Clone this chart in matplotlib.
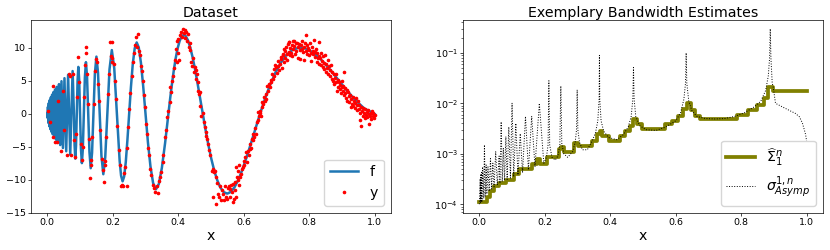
import matplotlib
matplotlib.use("Agg")
import matplotlib.pyplot as plt
import numpy as np

# --------------------------------------------------------------------------- #
# left panel: true function f (x ascending)
# --------------------------------------------------------------------------- #
f_x = [0.0, 0.0006, 0.0012, 0.0019, 0.0025, 0.0032, 0.0038, 0.0045, 0.0053, 0.0060,
       0.0068, 0.0075, 0.0083, 0.0092, 0.0100, 0.0109, 0.0118, 0.0127, 0.0136, 0.0146,
       0.0156, 0.0167, 0.0177, 0.0189, 0.0200, 0.0212, 0.0224, 0.0237, 0.0250, 0.0264,
       0.0278, 0.0292, 0.0308, 0.0324, 0.0340, 0.0357, 0.0375, 0.0394, 0.0413, 0.0433,
       0.0455, 0.0477, 0.0500, 0.0524, 0.0550, 0.0577, 0.0605, 0.0635, 0.0667, 0.0700,
       0.0735, 0.0773, 0.0813, 0.0833, 0.0855, 0.0877, 0.0900, 0.0924, 0.0948, 0.0974,
       0.1000, 0.1027, 0.1056, 0.1085, 0.1115, 0.1147, 0.1180, 0.1214, 0.1250, 0.1287,
       0.1326, 0.1367, 0.1409, 0.1453, 0.1500, 0.1549, 0.1600, 0.1654, 0.1711, 0.1770,
       0.1833, 0.1900, 0.1971, 0.2045, 0.2125, 0.2167, 0.2210, 0.2254, 0.2300, 0.2347,
       0.2397, 0.2447, 0.2500, 0.2555, 0.2611, 0.2670, 0.2731, 0.2794, 0.2860, 0.2929,
       0.3000, 0.3074, 0.3152, 0.3233, 0.3318, 0.3407, 0.3500, 0.3598, 0.3700, 0.3753,
       0.3808, 0.3864, 0.3921, 0.3980, 0.4041, 0.4103, 0.4167, 0.4232, 0.4300, 0.4370,
       0.4441, 0.4515, 0.4591, 0.4669, 0.4750, 0.4833, 0.4919, 0.5008, 0.5100, 0.5195,
       0.5293, 0.5395, 0.5500, 0.5609, 0.5722, 0.5840, 0.5962, 0.6088, 0.6220, 0.6357,
       0.6500, 0.6649, 0.6804, 0.6967, 0.7136, 0.7314, 0.7500, 0.7695, 0.7900, 0.8115,
       0.8342, 0.8581, 0.8833, 0.9100, 0.9382, 0.9682, 1.0000]
f_y = [0.0, -0.60, 0.0, 1.06, 0.0, -1.37, 0.0, 1.63, 0.0, -1.88,
       0.0, 2.10, 0.0, -2.32, 0.0, 2.52, 0.0, -2.72, 0.0, 2.91,
       0.0, -3.11, 0.0, 3.31, 0.0, -3.50, 0.0, 3.70, 0.0, -3.90,
       0.0, 4.09, 0.0, -4.30, 0.0, 4.51, 0.0, -4.73, 0.0, 4.95,
       0.0, -5.18, 0.0, 5.41, 0.0, -5.67, 0.0, 5.93, 0.0, -6.20,
       0.0, 6.49, 0.0, -4.75, -6.79, -4.86, 0.0, 4.98, 7.12, 5.10,
       0.0, -5.22, -7.47, -5.34, 0.0, 5.48, 7.84, 5.61, 0.0, -5.75,
       -8.24, -5.90, 0.0, 6.06, 8.68, 6.22, 0.0, -6.38, -9.15, -6.56,
       0.0, 6.74, 9.67, 6.93, 0.0, -3.83, -7.13, -9.38, -10.23, -9.51,
       -7.34, -4.00, 0.0, 4.06, 7.55, 9.93, 10.83, 10.07, 7.76, 4.23,
       0.0, -4.29, -7.98, -10.50, -11.44, -10.64, -8.20, -4.46, 0.0, 2.30,
       4.52, 6.57, 8.39, 9.89, 11.02, 11.72, 11.98, 11.78, 11.12, 10.02,
       8.54, 6.72, 4.63, 2.37, 0.0, -2.37, -4.65, -6.75, -8.59, -10.09,
       -11.21, -11.88, -12.09, -11.83, -11.11, -9.96, -8.43, -6.59, -4.51, -2.28,
       0.0, 2.24, 4.34, 6.21, 7.77, 8.96, 9.72, 10.04, 9.90, 9.32,
       8.35, 7.05, 5.52, 3.86, 2.24, 0.83, 0.0]

# noisy observations y, grouped by x range
obs_a = [(0.003, 0.5), (0.009, -1.2), (0.016, -3.5), (0.018, 4.2), (0.023, -4.3), (0.029, -4.3),
         (0.033, 2.0), (0.041, -5.7), (0.047, 3.5), (0.052, -2.5), (0.059, -6.2), (0.067, 6.1),
         (0.069, 5.8), (0.071, -6.2), (0.077, 6.0), (0.083, -4.0), (0.085, -6.5), (0.088, -3.0),
         (0.091, 2.5), (0.095, 8.6), (0.097, 4.8)]
obs_b = [(0.102, -4.5), (0.106, -7.0), (0.109, -5.0), (0.113, 2.5), (0.115, 7.4), (0.118, 10.1),
         (0.118, 9.3), (0.121, 6.0), (0.124, 1.5), (0.127, -3.8), (0.130, -9.7), (0.132, -7.8),
         (0.135, -7.0), (0.138, -3.5), (0.142, 1.5), (0.146, 6.5), (0.149, 8.3), (0.152, 7.8),
         (0.156, 4.5), (0.158, 2.0), (0.162, -2.5), (0.166, -6.8), (0.169, -8.5), (0.173, -10.3),
         (0.175, -7.8), (0.177, -7.2), (0.180, -3.5), (0.186, 3.0), (0.189, 6.0), (0.193, 10.9),
         (0.195, 8.8), (0.198, 10.9), (0.199, 8.5), (0.199, 7.9)]
obs_c = [(0.203, 7.5), (0.207, 5.0), (0.210, 2.2), (0.214, -1.8), (0.218, -5.5), (0.222, -7.8),
         (0.226, -11.0), (0.229, -10.8), (0.232, -11.0), (0.235, -9.0), (0.238, -8.0),
         (0.242, -11.0), (0.243, -5.2), (0.247, -2.0), (0.251, 0.8), (0.254, 3.2), (0.258, 5.8),
         (0.262, 7.8), (0.265, 9.2), (0.268, 10.5), (0.272, 11.6), (0.275, 10.2), (0.278, 12.1),
         (0.280, 9.6), (0.283, 8.9), (0.286, 7.2), (0.289, 6.5), (0.291, 5.0), (0.295, 2.8),
         (0.298, 1.0), (0.302, -1.5), (0.305, -3.0), (0.308, -5.2), (0.311, -6.3), (0.315, -8.4),
         (0.318, -9.2), (0.322, -10.8), (0.326, -11.2), (0.330, -11.8), (0.334, -11.0),
         (0.337, -12.0), (0.341, -10.2), (0.345, -9.5), (0.348, -8.8), (0.352, -7.3),
         (0.355, -6.2), (0.359, -3.5), (0.362, -2.5), (0.366, -0.5), (0.369, 0.5), (0.374, 1.8),
         (0.376, 4.0), (0.379, 3.3), (0.382, 5.0), (0.384, 5.8), (0.388, 7.0), (0.391, 8.2),
         (0.394, 9.8), (0.396, 7.8), (0.396, 11.0), (0.400, 9.3), (0.400, 11.4), (0.402, 8.1)]
obs_d = [(0.405, 11.9), (0.410, 12.4), (0.413, 11.7), (0.415, 12.9), (0.418, 12.2), (0.420, 12.7),
         (0.422, 11.5), (0.425, 12.4), (0.427, 11.0), (0.430, 12.1), (0.433, 10.1), (0.435, 10.8),
         (0.437, 9.7), (0.439, 7.8), (0.442, 7.3), (0.445, 8.5), (0.448, 6.3), (0.450, 7.1),
         (0.453, 5.3), (0.455, 6.6), (0.457, 6.1), (0.459, 3.5), (0.461, 4.8), (0.463, 3.0),
         (0.466, 3.3), (0.468, 1.2), (0.471, -0.3), (0.475, 0.2), (0.478, -1.2), (0.481, -2.0),
         (0.484, -2.8), (0.486, -3.3), (0.489, -3.8), (0.492, -4.6), (0.495, -5.5), (0.498, -6.3)]
obs_e = [(0.502, -8.6), (0.505, -8.3), (0.508, -8.8), (0.512, -8.6), (0.515, -9.6), (0.506, -12.6),
         (0.516, -13.7), (0.520, -10.5), (0.523, -12.2), (0.526, -12.6), (0.528, -11.0),
         (0.532, -13.0), (0.535, -11.6), (0.538, -12.2), (0.541, -13.1), (0.544, -11.0),
         (0.547, -12.6), (0.550, -12.9), (0.552, -11.2), (0.555, -10.9), (0.557, -12.6),
         (0.559, -11.4), (0.561, -10.8), (0.564, -11.8), (0.567, -13.4), (0.567, -10.6),
         (0.570, -12.9), (0.572, -10.4), (0.575, -11.5), (0.577, -12.6), (0.577, -8.1),
         (0.580, -9.6), (0.582, -8.6), (0.582, -10.1), (0.585, -10.8), (0.587, -7.8),
         (0.590, -9.5), (0.592, -9.1), (0.595, -8.4), (0.598, -8.1), (0.600, -7.8)]
obs_f = [(0.602, -7.1), (0.605, -6.6), (0.607, -5.8), (0.610, -7.3), (0.612, -5.6), (0.615, -6.2),
         (0.618, -4.5), (0.620, -5.3), (0.623, -5.1), (0.625, -3.8), (0.628, -4.0), (0.630, -3.0),
         (0.633, -3.5), (0.636, -2.2), (0.638, -3.0), (0.641, -1.2), (0.643, -1.0), (0.644, 0.3),
         (0.647, -0.4), (0.649, 0.5), (0.651, 0.2), (0.653, -0.3), (0.655, 1.0), (0.657, 1.8),
         (0.659, 1.5), (0.662, 2.6), (0.664, 2.0), (0.667, 3.0), (0.669, 2.3), (0.672, 4.2),
         (0.674, 3.5), (0.677, 4.6), (0.679, 4.0), (0.682, 5.2), (0.684, 4.8), (0.687, 6.0),
         (0.689, 5.3), (0.692, 6.8), (0.694, 5.8), (0.696, 7.4), (0.699, 7.1)]
obs_g = [(0.702, 6.2), (0.704, 7.3), (0.706, 8.0), (0.709, 6.6), (0.711, 7.5), (0.713, 8.6),
         (0.715, 8.3), (0.717, 7.0), (0.719, 8.9), (0.720, 9.1), (0.722, 7.8), (0.724, 9.9),
         (0.725, 9.6), (0.727, 8.4), (0.729, 10.2), (0.731, 9.0), (0.733, 8.2), (0.735, 10.6),
         (0.737, 9.4), (0.739, 10.9), (0.740, 10.9), (0.741, 8.9), (0.743, 10.0), (0.745, 9.2),
         (0.747, 10.4), (0.749, 8.7), (0.751, 9.8), (0.752, 11.1), (0.753, 11.0), (0.755, 10.3),
         (0.757, 9.1), (0.759, 10.7), (0.761, 9.6), (0.763, 10.8), (0.765, 8.5), (0.767, 10.1),
         (0.769, 10.6), (0.771, 9.7), (0.773, 8.3), (0.775, 10.4), (0.777, 9.9), (0.779, 11.0),
         (0.781, 9.4), (0.783, 10.2), (0.785, 8.1), (0.787, 10.8), (0.789, 11.9), (0.791, 9.5),
         (0.793, 10.5), (0.795, 9.1), (0.797, 10.0), (0.799, 8.9)]
obs_h = [(0.801, 9.7), (0.803, 10.7), (0.805, 9.3), (0.807, 8.0), (0.809, 10.1), (0.811, 9.0),
         (0.813, 9.6), (0.815, 11.2), (0.817, 8.6), (0.819, 9.4), (0.821, 9.9), (0.823, 7.9),
         (0.825, 9.2), (0.827, 8.4), (0.829, 10.9), (0.829, 8.8), (0.831, 7.6), (0.833, 8.5),
         (0.835, 9.3), (0.837, 7.4), (0.839, 8.0), (0.841, 7.1), (0.843, 8.7), (0.845, 6.8),
         (0.847, 7.7), (0.849, 8.9), (0.851, 6.4), (0.853, 7.5), (0.855, 6.9), (0.857, 8.1),
         (0.859, 6.1), (0.861, 7.2), (0.863, 5.8), (0.865, 6.6), (0.867, 7.4), (0.869, 5.3),
         (0.871, 6.3), (0.873, 5.0), (0.875, 6.0), (0.877, 4.6), (0.879, 5.5), (0.881, 6.1),
         (0.883, 4.8), (0.885, 3.4), (0.887, 5.2), (0.889, 4.1), (0.891, 4.9), (0.893, 3.7),
         (0.895, 4.4), (0.897, 3.2), (0.899, 4.0)]
obs_i = [(0.901, 5.0), (0.903, 3.5), (0.905, 4.2), (0.907, 6.3), (0.907, 2.8), (0.909, 3.9),
         (0.911, 3.1), (0.913, 2.4), (0.915, 3.6), (0.917, 2.0), (0.919, 3.3), (0.921, 2.7),
         (0.923, 1.8), (0.925, 2.9), (0.927, 1.0), (0.929, 2.3), (0.931, 1.5), (0.933, 2.6),
         (0.935, 1.2), (0.937, 2.0), (0.939, 1.7), (0.941, 0.9), (0.943, 2.4), (0.945, 1.3),
         (0.947, 0.6), (0.949, 1.9), (0.951, 0.8), (0.953, 1.4), (0.955, 0.2), (0.957, -1.0),
         (0.958, -1.8), (0.960, 1.1), (0.962, 0.4), (0.964, -0.3), (0.966, 0.9), (0.968, 0.1),
         (0.970, -0.6), (0.972, 0.7), (0.974, -0.2), (0.976, 0.3), (0.978, -0.5), (0.980, 0.6),
         (0.982, -1.6), (0.984, 0.0), (0.986, -0.4), (0.988, 0.2), (0.990, -0.8), (0.992, 0.5),
         (0.994, -0.3), (0.996, 0.1), (0.998, -0.6), (1.000, -0.1)]

# --------------------------------------------------------------------------- #
# right panel: piecewise-constant estimate and asymptotic bandwidth
# --------------------------------------------------------------------------- #
step_x = [0.0, 0.023, 0.034, 0.044, 0.059, 0.081, 0.105, 0.12, 0.16, 0.176, 0.186, 0.206,
          0.242, 0.25, 0.258, 0.288, 0.303, 0.344, 0.359, 0.369, 0.374, 0.395, 0.43, 0.446,
          0.461, 0.471, 0.481, 0.496, 0.568, 0.588, 0.608, 0.623, 0.634, 0.646, 0.659, 0.674,
          0.786, 0.822, 0.85, 0.871, 0.883, 0.896, 1.0]
step_v = [1.1e-4, 1.4e-4, 1.8e-4, 2.25e-4, 2.6e-4, 3.0e-4, 3.9e-4, 5.0e-4, 6.3e-4, 8.0e-4,
          6.4e-4, 8.7e-4, 1.24e-3, 1.38e-3, 1.06e-3, 1.67e-3, 1.44e-3, 1.8e-3, 2.43e-3, 2.83e-3,
          2.25e-3, 1.8e-3, 2.25e-3, 2.83e-3, 3.54e-3, 4.8e-3, 3.82e-3, 3.05e-3, 3.82e-3, 4.5e-3,
          5.6e-3, 7.8e-3, 1.0e-2, 7.5e-3, 5.6e-3, 4.8e-3, 6.0e-3, 7.5e-3, 9.4e-3, 1.27e-2,
          2.15e-2, 1.72e-2, 1.72e-2]

asy_x = [0.000, 0.0025, 0.0035, 0.0045, 0.006, 0.0070, 0.0083, 0.010, 0.0118, 0.0135, 0.0156,
         0.018, 0.0208, 0.023, 0.0264, 0.030, 0.034, 0.0375, 0.0413, 0.045, 0.050, 0.055,
         0.0605, 0.063, 0.0667, 0.070, 0.0735, 0.077, 0.081, 0.085, 0.090, 0.095, 0.100, 0.105,
         0.1115, 0.118, 0.125, 0.132, 0.141, 0.150, 0.160, 0.170, 0.1833, 0.197, 0.205, 0.210,
         0.2125, 0.215, 0.222, 0.232, 0.240, 0.246, 0.249, 0.252, 0.258, 0.270, 0.285, 0.293,
         0.297, 0.299, 0.301, 0.306, 0.315, 0.330, 0.345, 0.355, 0.362, 0.366, 0.367, 0.368,
         0.372, 0.380, 0.395, 0.420, 0.440, 0.455, 0.464, 0.469, 0.471, 0.473, 0.478, 0.490,
         0.510, 0.540, 0.570, 0.600, 0.615, 0.625, 0.630, 0.632, 0.634, 0.640, 0.650, 0.665,
         0.690, 0.720, 0.750, 0.780, 0.810, 0.840, 0.860, 0.875, 0.883, 0.887, 0.889, 0.891,
         0.895, 0.898, 0.905, 0.926, 0.946, 0.966, 0.978, 0.987, 0.993, 0.997, 1.000]
asy_y = [1.0e-4, 3.2e-4, 1.05e-4, 4.0e-4, 1.1e-4, 4.5e-4, 1.15e-4, 5.5e-4, 3.5e-4, 1.3e-4,
         1.5e-3, 1.4e-4, 6.0e-4, 1.6e-4, 5.5e-4, 1.8e-4, 8.0e-4, 2.0e-4, 6.5e-4, 2.2e-4, 1.1e-3,
         2.4e-4, 9.0e-4, 2.6e-4, 4.3e-3, 2.8e-4, 1.3e-3, 3.0e-4, 2.2e-3, 3.1e-4, 3.4e-3,
         3.3e-4, 1.0e-2, 3.5e-4, 4.0e-3, 3.8e-4, 2.5e-3, 4.2e-4, 5.5e-3, 4.8e-4, 5.5e-3,
         5.5e-4, 1.0e-2, 6.5e-4, 8.5e-4, 1.5e-3, 2.8e-2, 1.5e-3, 8.5e-4, 7.5e-4, 9.0e-4,
         1.5e-3, 2.2e-2, 1.6e-3, 1.0e-3, 8.5e-4, 1.1e-3, 1.7e-3, 3.0e-3, 1.85e-2, 3.0e-3,
         1.7e-3, 1.2e-3, 1.2e-3, 1.8e-3, 2.6e-3, 4.5e-3, 1.2e-2, 8.9e-2, 1.2e-2, 4.5e-3,
         2.8e-3, 2.1e-3, 1.9e-3, 2.4e-3, 3.4e-3, 5.5e-3, 1.2e-2, 5.1e-2, 1.2e-2, 5.5e-3,
         3.6e-3, 3.0e-3, 2.9e-3, 3.4e-3, 4.5e-3, 6.5e-3, 1.2e-2, 2.5e-2, 1.0e-1, 2.5e-2,
         1.1e-2, 7.0e-3, 5.5e-3, 5.0e-3, 4.9e-3, 5.0e-3, 5.5e-3, 6.5e-3, 8.5e-3, 1.1e-2,
         1.8e-2, 3.5e-2, 8.0e-2, 3.0e-1, 8.0e-2, 2.5e-2, 2.1e-2, 1.0e-2, 8.5e-3, 7.3e-3,
         6.3e-3, 5.4e-3, 4.1e-3, 3.0e-3, 2.4e-3, 1.8e-3]

BIG = 10.2   # title / axis label / legend size
SMALL = 6.8  # tick label size


def main() -> None:
    plt.rcParams.update({
        "xtick.labelsize": SMALL, "ytick.labelsize": SMALL,
        "xtick.major.size": 2.0, "ytick.major.size": 2.0,
        "xtick.minor.size": 1.2, "ytick.minor.size": 1.2,
        "xtick.major.pad": 1.6, "ytick.major.pad": 1.6,
        "xtick.major.width": 0.5, "ytick.major.width": 0.5,
        "xtick.minor.width": 0.4, "ytick.minor.width": 0.4,
        "axes.linewidth": 0.5,
        "legend.fontsize": BIG,
    })

    obs = np.array(obs_a + obs_b + obs_c + obs_d + obs_e + obs_f + obs_g + obs_h + obs_i)

    fig = plt.figure(figsize=(8.3, 2.5), dpi=100)
    ax1 = fig.add_axes([0.0373, 0.148, 0.4337, 0.772])
    ax2 = fig.add_axes([0.5578, 0.148, 0.4337, 0.772])

    ax1.plot(f_x, f_y, color="tab:blue", lw=1.8, label="f")
    ax1.plot(obs[:, 0], obs[:, 1], ".", color="red", ms=3.2, label="y")
    ax1.set_title("Dataset", fontsize=BIG, pad=2)
    ax1.set_xlabel("x", fontsize=BIG, labelpad=1.2)
    ax1.set_yticks([-15, -10, -5, 0, 5, 10])
    ax1.legend(loc="lower right")

    ax2.step(step_x, step_v, where="post", color="olive", lw=2.7,
             label=r"$\widehat{\Sigma}_1^n$")
    ax2.plot(asy_x, asy_y, "k:", lw=0.7, label=r"$\sigma_{Asymp}^{1,n}$")
    ax2.set_yscale("log")
    ax2.set_title("Exemplary Bandwidth Estimates", fontsize=BIG, pad=2)
    ax2.set_xlabel("x", fontsize=BIG, labelpad=1.2)
    ax2.legend(loc="lower right")

    fig.savefig("out.png", dpi=100)
    plt.close(fig)


if __name__ == "__main__":
    main()
